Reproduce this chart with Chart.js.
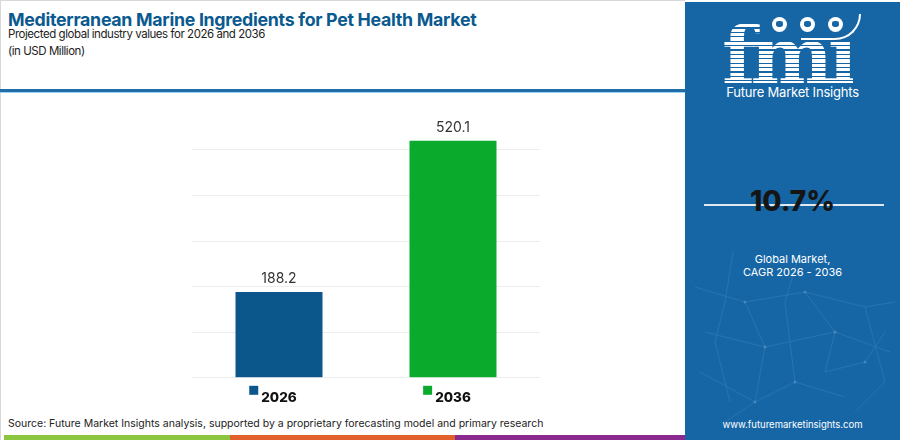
<!DOCTYPE html>
<html lang="en">
  <head>
    <meta charset="UTF-8" />
    <title>Mediterranean Marine Ingredients for Pet Health Market</title>
    <style>
      body {
        margin: 0;
        width: 900px;
        height: 440px;
        overflow: hidden;
        background: #ffffff;
        font-family: "Inter", "Open Sans", sans-serif;
        position: relative;
      }
      .frame {
        position: absolute;
        left: 0;
        top: 0;
        width: 685px;
        height: 440px;
        border-top: 1px solid #d8d8d8;
        border-left: 1px solid #d8d8d8;
        box-sizing: border-box;
      }
      .title {
        position: absolute;
        left: 8px;
        top: 9px;
        font-size: 17.8px;
        font-weight: 700;
        color: #0b5a8f;
        letter-spacing: -0.3px;
        white-space: nowrap;
      }
      .subtitle {
        position: absolute;
        left: 8px;
        top: 26px;
        font-size: 11.5px;
        letter-spacing: -0.45px;
        color: #222;
        line-height: 17px;
      }
      .rule {
        position: absolute;
        left: 0;
        top: 89px;
        width: 686px;
        height: 3px;
        background: #1f6ea8;
        border-bottom: 1px solid #9fd0ee;
      }
      #chartBox {
        position: absolute;
        left: 180px;
        top: 110px;
        width: 380px;
        height: 304px;
      }
      .source {
        position: absolute;
        left: 8px;
        top: 417px;
        font-size: 10.5px;
        color: #222;
        white-space: nowrap;
      }
      .stripe {
        position: absolute;
        top: 435px;
        height: 5px;
      }
      .panel {
        position: absolute;
        left: 685px;
        top: 2px;
        width: 215px;
        height: 438px;
        background: #1666a6;
        overflow: hidden;
      }
      .logo {
        position: absolute;
        left: 37px;
        top: 9px;
        font-family: "DejaVu Serif", serif;
        font-weight: 700;
        font-size: 78px;
        line-height: 90px;
        letter-spacing: -5px;
        color: transparent;
        background: repeating-linear-gradient(
          to bottom,
          #ffffff 0px,
          #ffffff 3.2px,
          #1666a6 3.2px,
          #1666a6 4.4px
        );
        -webkit-background-clip: text;
        background-clip: text;
      }
      .globe {
        position: absolute;
        top: 15px;
        width: 15px;
        height: 15px;
        border-radius: 50%;
        background: #ffffff;
      }
      .globe::after {
        content: "";
        position: absolute;
        left: 4px;
        top: 4px;
        width: 7px;
        height: 6px;
        border-radius: 40%;
        background: #1666a6;
      }
      .arc {
        position: absolute;
        left: 116px;
        top: 12px;
        width: 58px;
        height: 24px;
        border-bottom: 2px solid #ffffff;
        border-right: 2px solid #ffffff;
        border-radius: 0 0 40px 0;
      }
      .brand {
        position: absolute;
        left: 0;
        width: 215px;
        top: 82px;
        text-align: center;
        color: #ffffff;
        font-size: 13px;
        letter-spacing: -0.2px;
      }
      .cagrLine {
        position: absolute;
        left: 19px;
        top: 202px;
        width: 180px;
        height: 1.5px;
        background: #dfe8ef;
      }
      .cagr {
        position: absolute;
        left: 0;
        width: 215px;
        top: 182px;
        text-align: center;
        font-size: 28px;
        font-weight: 800;
        color: #151515;
      }
      .cagrText {
        position: absolute;
        left: 0;
        width: 215px;
        top: 251px;
        text-align: center;
        font-size: 11px;
        line-height: 13px;
        color: #ffffff;
      }
      .url {
        position: absolute;
        left: 0;
        width: 215px;
        top: 417px;
        text-align: center;
        font-size: 9.5px;
        color: #ffffff;
      }
      .net {
        position: absolute;
        left: 0;
        top: 0;
      }
    </style>
  </head>
  <body>
    <div class="frame"></div>
    <div class="title">Mediterranean Marine Ingredients for Pet Health Market</div>
    <div class="subtitle">
      Projected global industry values for 2026 and 2036<br />(in USD Million)
    </div>
    <div class="rule"></div>

    <div id="chartBox"><canvas id="marketChart"></canvas></div>

    <div class="source">
      Source: Future Market Insights analysis, supported by a proprietary forecasting model and primary research
    </div>
    <div class="stripe" style="left: 4px; width: 226px; background: #8cc63f"></div>
    <div class="stripe" style="left: 230px; width: 225px; background: #e2602b"></div>
    <div class="stripe" style="left: 455px; width: 230px; background: #8b2a8e"></div>

    <!-- Right side brand panel -->
    <div class="panel">
      <svg class="net" width="215" height="438">
        <g stroke="#4a8cc0" stroke-width="0.8" opacity="0.45" fill="none">
          <polyline points="48,250 40,300 30,340 45,400" />
          <polyline points="10,285 60,300 120,290 180,305 210,300" />
          <polyline points="20,330 80,345 150,330 205,350" />
          <polyline points="60,300 80,345 70,400 110,380 160,395" />
          <polyline points="120,290 150,330 140,370 180,360 200,330" />
          <polyline points="15,370 70,400 40,420" />
          <polyline points="180,305 200,380 170,410" />
          <polyline points="115,250 100,300 110,380" />
        </g>
        <g fill="#6aa3d0" opacity="0.5">
          <circle cx="60" cy="300" r="1.5" />
          <circle cx="120" cy="290" r="1.5" />
          <circle cx="80" cy="345" r="1.5" />
          <circle cx="150" cy="330" r="1.5" />
          <circle cx="70" cy="400" r="1.5" />
          <circle cx="180" cy="360" r="1.5" />
          <circle cx="110" cy="380" r="1.5" />
        </g>
      </svg>
      <div class="logo">fmı</div>
      <div class="arc"></div>
      <div class="globe" style="left: 87px"></div>
      <div class="globe" style="left: 115px"></div>
      <div class="globe" style="left: 143px"></div>
      <div class="brand">Future Market Insights</div>
      <div class="cagrLine"></div>
      <div class="cagr">10.7%</div>
      <div class="cagrText">Global Market,<br />CAGR 2026 - 2036</div>
      <div class="url">www.futuremarketinsights.com</div>
    </div>

    <script src="https://cdn.jsdelivr.net/npm/chart.js@4.4.0/dist/chart.umd.min.js"></script>
    <script>
      // Chart data
      const years = ["2026", "2036"];
      const marketValues = [188.2, 520.1];
      const barColors = ["#0b568b", "#0aab2d"];
      const yTicks = [0, 100, 200, 300, 400, 500];

      // Draws value labels above bars and colored squares beside the year labels
      const annotatePlugin = {
        id: "annotate",
        afterDatasetsDraw(chart) {
          const ctx = chart.ctx;
          const meta = chart.getDatasetMeta(0);
          ctx.save();
          ctx.font = "14px Inter, sans-serif";
          ctx.fillStyle = "#333333";
          ctx.textAlign = "center";
          ctx.textBaseline = "bottom";
          meta.data.forEach((bar, i) => {
            ctx.fillText(marketValues[i].toFixed(1), bar.x, bar.y - 6);
          });

          const xScale = chart.scales.x;
          ctx.font = "800 13.5px Inter, sans-serif";
          years.forEach((year, i) => {
            const cx = xScale.getPixelForValue(i);
            const w = ctx.measureText(year).width;
            ctx.fillStyle = barColors[i];
            ctx.fillRect(cx - w / 2 - 12, xScale.top + 8, 9, 9);
          });
          ctx.restore();
        },
      };

      function createChart() {
        const ctx = document.getElementById("marketChart").getContext("2d");
        new Chart(ctx, {
          type: "bar",
          data: {
            labels: years,
            datasets: [
              {
                label: "Market value (USD Million)",
                data: marketValues,
                backgroundColor: barColors,
                borderWidth: 0,
                barPercentage: 0.5,
                categoryPercentage: 1,
              },
            ],
          },
          options: {
            responsive: true,
            maintainAspectRatio: false,
            animation: false,
            layout: {
              padding: { left: 12, right: 20, top: 17, bottom: 4 },
            },
            plugins: {
              legend: { display: false },
              tooltip: { enabled: false },
            },
            scales: {
              x: {
                grid: { display: false },
                border: { display: false },
                ticks: {
                  padding: 4,
                  color: "#111111",
                  font: { family: "Inter", size: 13.5, weight: "800" },
                },
              },
              y: {
                min: 0,
                max: 550,
                afterBuildTicks(axis) {
                  axis.ticks = yTicks.map((v) => ({ value: v }));
                },
                grid: { color: "#ededed", drawTicks: false },
                border: { display: false },
                ticks: { display: false },
              },
            },
          },
          plugins: [annotatePlugin],
        });
      }

      window.onload = createChart;
    </script>
  </body>
</html>
